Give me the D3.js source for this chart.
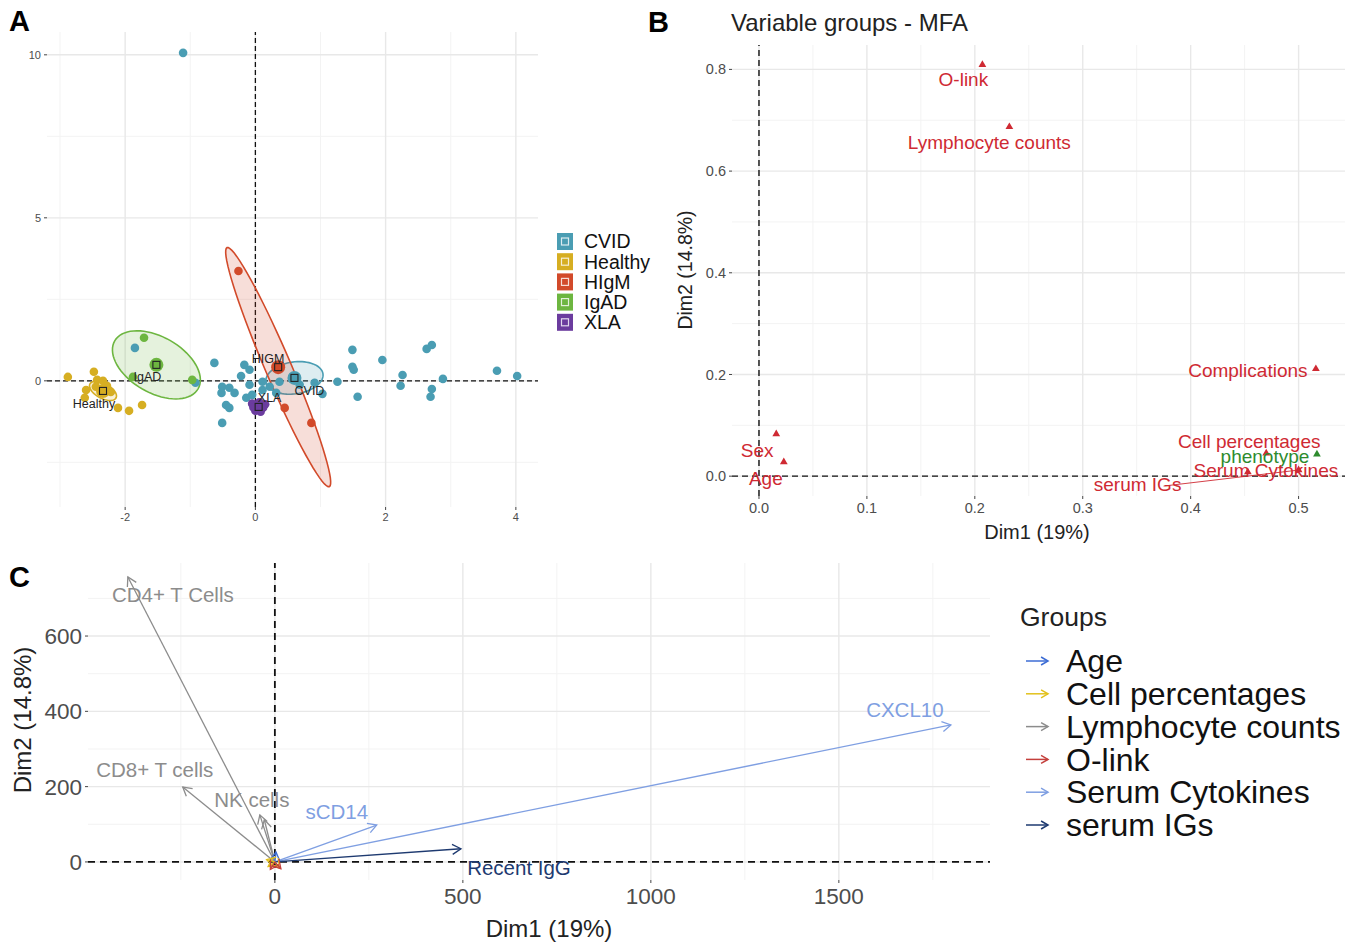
<!DOCTYPE html>
<html>
<head>
<meta charset="utf-8">
<script src="https://cdn.jsdelivr.net/npm/d3@7"></script>
<style>
  body { margin: 0; background: #fff; }
  text { font-family: "Liberation Sans", Arial, Helvetica, sans-serif; }
</style>
</head>
<body>
<svg id="fig" width="1368" height="946"></svg>
<script>
// ---------- Panel A: individuals ----------
const groupsA = ['CVID', 'Healthy', 'HIgM', 'IgAD', 'XLA'];
const colorsA = ['#4A9DB3', '#D6AE22', '#D24A2A', '#6DB640', '#6B3C9E'];

const cvidPts = [
  [-1.11, 10.06], [-0.63, 0.55], [-0.17, 0.49], [-0.09, 0.34], [-0.22, 0.15],
  [-0.09, -0.12], [-0.51, -0.18], [-0.40, -0.21], [-0.52, -0.37], [-0.32, -0.37],
  [-0.14, -0.52], [-0.45, -0.74], [-0.40, -0.83], [-0.51, -1.29], [-0.92, -0.06],
  [-1.85, 1.01], [0.11, -0.03], [0.22, -0.18], [0.37, -0.03], [0.11, -0.28],
  [0.32, -0.37], [-0.05, -0.43], [0.57, 0.12], [0.68, -0.12], [0.91, -0.06],
  [1.03, -0.40], [1.26, -0.03], [1.49, 0.95], [1.49, 0.43], [1.51, 0.34],
  [1.95, 0.64], [1.57, -0.49], [2.26, 0.18], [2.23, -0.15], [2.63, 0.98],
  [2.71, 1.10], [2.71, -0.25], [2.69, -0.49], [2.88, 0.06], [3.71, 0.31], [4.02, 0.15]
];
const healthyPts = [
  [-2.88, 0.12], [-2.48, 0.28], [-2.43, 0.03], [-2.34, 0.0], [-2.60, -0.28],
  [-2.45, -0.18], [-2.22, -0.34], [-2.62, -0.52], [-2.11, -0.83], [-1.94, -0.92],
  [-1.74, -0.74], [-2.28, -0.15]
];
const higmPts = [[-0.26, 3.37], [0.45, -0.83], [0.86, -1.29]];
const igadPts = [[-1.71, 1.32], [-0.97, 0.03], [-1.88, 0.12]];
const xlaPts = [
  [-0.05, -0.70], [0.06, -0.66], [0.12, -0.82], [0.0, -0.92],
  [0.15, -0.72], [-0.03, -0.82], [0.08, -0.95]
];
const pointsA = [cvidPts, healthyPts, higmPts, igadPts, xlaPts];

const meanLabelsA = ['CVID', 'Healthy', 'HIGM', 'IgAD', 'XLA'];
const meanXA = [0.60, -2.34, 0.35, -1.52, 0.05];
const meanYA = [0.09, -0.31, 0.42, 0.49, -0.80];
// ellipse half-axes in data units
const ellAxis1 = [[0.438, 0.123], [0.20, -0.215], [0.785, -3.666], [0.64, -0.736], [0.12, 0]];
const ellAxis2 = [[0.034, -0.485], [-0.054, -0.20], [0.184, 0.156], [-0.215, -0.742], [0, -0.18]];

const xTicksA = [-2, 0, 2, 4];
const yTicksA = [0, 5, 10];

// ---------- Panel B: variable groups ----------
const groupsB = ['O-link', 'Lymphocyte counts', 'Complications', 'Cell percentages',
  'phenotype', 'Serum Cytokines', 'serum IGs', 'Sex', 'Age'];
const dim1B = [0.207, 0.232, 0.516, 0.470, 0.517, 0.453, 0.500, 0.016, 0.023];
const dim2B = [0.809, 0.687, 0.211, 0.045, 0.043, 0.008, 0.012, 0.083, 0.028];
const suppB = [false, false, false, false, true, false, false, false, false];
const xTicksB = [0, 0.1, 0.2, 0.3, 0.4, 0.5];
const yTicksB = [0, 0.2, 0.4, 0.6, 0.8];

// ---------- Panel C: quantitative variables ----------
const varsC = ['CD4+ T Cells', 'CD8+ T cells', 'NK cells', '', 'sCD14', 'CXCL10',
  'Recent IgG', '', '', '', '', '', ''];
const dim1C = [-391, -245, -40, -28, 271, 1798, 495, 3, -18, 12, -22, -12, 16];
const dim2C = [757, 199, 125, 112, 98, 364, 35, 26, -12, -16, 6, -20, -18];
const groupC = ['Lymphocyte counts', 'Lymphocyte counts', 'Lymphocyte counts', 'Lymphocyte counts',
  'Serum Cytokines', 'Serum Cytokines', 'serum IGs', 'Age', 'Cell percentages',
  'Cell percentages', 'Cell percentages', 'O-link', 'O-link'];
const legendC = ['Age', 'Cell percentages', 'Lymphocyte counts', 'O-link', 'Serum Cytokines', 'serum IGs'];
const colorsC = ['#3C6CD4', '#E2C11C', '#8C8C8C', '#C4403C', '#7F9FE2', '#1E3A70'];
const xTicksC = [0, 500, 1000, 1500];
const yTicksC = [0, 200, 400, 600];

// ---------- layout ----------
const svg = d3.select('#fig');

function drawFrame(x, y, o) {
  const g = svg.append('g');
  const [x0, x1] = x.range();
  const [y0, y1] = y.range();
  // minor grid at midpoints
  const mid = t => t.slice(0, -1).map((v, i) => (v + t[i + 1]) / 2)
    .concat([t[0] - (t[1] - t[0]) / 2, t[t.length - 1] + (t[1] - t[0]) / 2]);
  const inX = v => x(v) >= x0 - 0.5 && x(v) <= x1 + 0.5;
  const inY = v => y(v) <= y0 + 0.5 && y(v) >= y1 - 0.5;
  g.selectAll('.mx').data(mid(o.xTicks).filter(inX)).join('line')
    .attr('x1', d => x(d)).attr('x2', d => x(d)).attr('y1', y0).attr('y2', y1)
    .attr('stroke', '#F3F3F3').attr('stroke-width', 1);
  g.selectAll('.my').data(mid(o.yTicks).filter(inY)).join('line')
    .attr('y1', d => y(d)).attr('y2', d => y(d)).attr('x1', x0).attr('x2', x1)
    .attr('stroke', '#F3F3F3').attr('stroke-width', 1);
  g.selectAll('.gx').data(o.xTicks).join('line')
    .attr('x1', d => x(d)).attr('x2', d => x(d)).attr('y1', y0).attr('y2', y1)
    .attr('stroke', '#E8E8E8').attr('stroke-width', 1.4);
  g.selectAll('.gy').data(o.yTicks).join('line')
    .attr('y1', d => y(d)).attr('y2', d => y(d)).attr('x1', x0).attr('x2', x1)
    .attr('stroke', '#E8E8E8').attr('stroke-width', 1.4);
  // ticks + labels
  g.selectAll('.tx').data(o.xTicks).join('line')
    .attr('x1', d => x(d)).attr('x2', d => x(d)).attr('y1', y0).attr('y2', y0 + 3)
    .attr('stroke', '#444');
  g.selectAll('.lx').data(o.xTicks).join('text')
    .attr('x', d => x(d)).attr('y', y0 + 4 + o.fs * 0.9)
    .attr('text-anchor', 'middle').attr('font-size', o.fs).attr('fill', '#4D4D4D')
    .text(o.fmt);
  g.selectAll('.ty').data(o.yTicks).join('line')
    .attr('x1', x0 - 3).attr('x2', x0).attr('y1', d => y(d)).attr('y2', d => y(d))
    .attr('stroke', '#444');
  g.selectAll('.ly').data(o.yTicks).join('text')
    .attr('x', x0 - 6).attr('y', d => y(d)).attr('dy', '0.35em')
    .attr('text-anchor', 'end').attr('font-size', o.fs).attr('fill', '#4D4D4D')
    .text(o.fmt);
  return g;
}

function zeroLines(x, y, dash, w) {
  const [x0, x1] = x.range();
  const [y0, y1] = y.range();
  svg.append('line').attr('x1', x0).attr('x2', x1).attr('y1', y(0)).attr('y2', y(0))
    .attr('stroke', '#111').attr('stroke-width', w).attr('stroke-dasharray', dash);
  svg.append('line').attr('x1', x(0)).attr('x2', x(0)).attr('y1', y0).attr('y2', y1)
    .attr('stroke', '#111').attr('stroke-width', w).attr('stroke-dasharray', dash);
}

function panelTag(t, px, py) {
  svg.append('text').attr('x', px).attr('y', py).attr('font-size', 29)
    .attr('font-weight', 'bold').attr('fill', '#000').text(t);
}

// ===== Panel A =====
const xA = d3.scaleLinear().domain([-3.2, 4.34]).range([47, 538]);
const yA = d3.scaleLinear().domain([-3.87, 10.7]).range([507, 32]);
drawFrame(xA, yA, { xTicks: xTicksA, yTicks: yTicksA, fs: 11, fmt: d => d });
zeroLines(xA, yA, '5,3', 1.3);
panelTag('A', 9, 31);

// ellipses
const ellLine = d3.line().curve(d3.curveLinearClosed);
groupsA.forEach((gname, i) => {
  const pts = d3.range(0, 72).map(k => {
    const t = k / 72 * 2 * Math.PI;
    const dx = Math.cos(t) * ellAxis1[i][0] + Math.sin(t) * ellAxis2[i][0];
    const dy = Math.cos(t) * ellAxis1[i][1] + Math.sin(t) * ellAxis2[i][1];
    return [xA(meanXA[i] + dx), yA(meanYA[i] + dy)];
  });
  svg.append('path').attr('d', ellLine(pts))
    .attr('fill', colorsA[i]).attr('fill-opacity', 0.18)
    .attr('stroke', colorsA[i]).attr('stroke-width', 1.6);
});

// individuals
groupsA.forEach((gname, i) => {
  svg.append('g').selectAll('circle').data(pointsA[i]).join('circle')
    .attr('cx', d => xA(d[0])).attr('cy', d => yA(d[1])).attr('r', 4.3)
    .attr('fill', colorsA[i]);
});

// group means
const labelOffA = [[15, 13], [-9, 13], [-10, -9], [-9, 12], [11, -9]];
groupsA.forEach((gname, i) => {
  const cx = xA(meanXA[i]), cy = yA(meanYA[i]);
  svg.append('circle').attr('cx', cx).attr('cy', cy).attr('r', 7).attr('fill', colorsA[i]);
  svg.append('rect').attr('x', cx - 3.5).attr('y', cy - 3.5).attr('width', 7).attr('height', 7)
    .attr('fill', 'none').attr('stroke', '#222').attr('stroke-width', 1.1);
  svg.append('text').attr('x', cx + labelOffA[i][0]).attr('y', cy + labelOffA[i][1])
    .attr('dy', '0.35em').attr('text-anchor', 'middle').attr('font-size', 12.5)
    .attr('fill', '#222').text(meanLabelsA[i]);
});

// legend A
const legA = svg.append('g').attr('transform', 'translate(557,233)');
groupsA.forEach((gname, i) => {
  const row = legA.append('g').attr('transform', `translate(0,${i * 20.2})`);
  row.append('rect').attr('width', 16).attr('height', 17).attr('fill', colorsA[i]);
  row.append('rect').attr('x', 4.5).attr('y', 5).attr('width', 7).attr('height', 7)
    .attr('fill', 'none').attr('stroke', '#fff').attr('stroke-opacity', 0.8).attr('stroke-width', 1.2);
  row.append('text').attr('x', 27).attr('y', 8.5).attr('dy', '0.35em')
    .attr('font-size', 19.5).attr('fill', '#111').text(gname);
});

// ===== Panel B =====
const xB = d3.scaleLinear().domain([-0.025, 0.543]).range([732, 1345]);
const yB = d3.scaleLinear().domain([-0.039, 0.848]).range([496, 45]);
drawFrame(xB, yB, { xTicks: xTicksB, yTicks: yTicksB, fs: 14.5, fmt: d3.format('.1f') });
zeroLines(xB, yB, '6,4', 1.4);
panelTag('B', 648, 32);
svg.append('text').attr('x', 731).attr('y', 31).attr('font-size', 24)
  .attr('fill', '#222').text('Variable groups - MFA');
svg.append('text').attr('x', 1037).attr('y', 539).attr('text-anchor', 'middle')
  .attr('font-size', 20).attr('fill', '#222').text('Dim1 (19%)');
svg.append('text').attr('transform', 'translate(692,270) rotate(-90)')
  .attr('text-anchor', 'middle').attr('font-size', 19.5).attr('fill', '#222').text('Dim2 (14.8%)');

const redB = '#CF2A33', greenB = '#2E8B2E';
const tri = d3.symbol(d3.symbolTriangle).size(26);
const labelOffB = [[-19, 15], [-20, 15], [-68, 1], [-17, -12], [-52, 2], [18, -2], [-161, 14], [-19, 16], [-18, 16]];
// connector for serum IGs
svg.append('line')
  .attr('x1', xB(dim1B[6]) + labelOffB[6][0] + 26).attr('y1', yB(dim2B[6]) + labelOffB[6][1] + 2)
  .attr('x2', xB(dim1B[6])).attr('y2', yB(dim2B[6]))
  .attr('stroke', redB).attr('stroke-width', 0.9);
groupsB.forEach((name, i) => {
  const px = xB(dim1B[i]), py = yB(dim2B[i]);
  const col = suppB[i] ? greenB : redB;
  svg.append('path').attr('d', tri).attr('transform', `translate(${px},${py})`).attr('fill', col);
  svg.append('text').attr('x', px + labelOffB[i][0]).attr('y', py + labelOffB[i][1])
    .attr('dy', '0.35em').attr('text-anchor', 'middle').attr('font-size', 19)
    .attr('fill', col).text(name);
});

// ===== Panel C =====
const xC = d3.scaleLinear().domain([-497, 1902]).range([88, 990]);
const yC = d3.scaleLinear().domain([-48, 794]).range([880, 563]);
drawFrame(xC, yC, { xTicks: xTicksC, yTicks: yTicksC, fs: 22.5, fmt: d => d });
zeroLines(xC, yC, '7,5', 1.8);
panelTag('C', 9, 587);
svg.append('text').attr('x', 549).attr('y', 937).attr('text-anchor', 'middle')
  .attr('font-size', 24).attr('fill', '#222').text('Dim1 (19%)');
svg.append('text').attr('transform', 'translate(31,720) rotate(-90)')
  .attr('text-anchor', 'middle').attr('font-size', 24).attr('fill', '#222').text('Dim2 (14.8%)');

const colorOfC = g => colorsC[legendC.indexOf(g)];
function arrowHead(x1, y1, x2, y2, len) {
  const a = Math.atan2(y2 - y1, x2 - x1);
  const p1 = [x2 - len * Math.cos(a - Math.PI / 6), y2 - len * Math.sin(a - Math.PI / 6)];
  const p2 = [x2 - len * Math.cos(a + Math.PI / 6), y2 - len * Math.sin(a + Math.PI / 6)];
  return `M${p1[0]},${p1[1]}L${x2},${y2}L${p2[0]},${p2[1]}`;
}
const labelOffC = [[45, 18], [-28, -17], [-8, -15], [0, 0], [-40, -13], [-46, -15], [58, 19]];
varsC.forEach((name, i) => {
  const ox = xC(0), oy = yC(0), tx = xC(dim1C[i]), ty = yC(dim2C[i]);
  const col = colorOfC(groupC[i]);
  svg.append('line').attr('x1', ox).attr('y1', oy).attr('x2', tx).attr('y2', ty)
    .attr('stroke', col).attr('stroke-width', 1.3);
  svg.append('path').attr('d', arrowHead(ox, oy, tx, ty, 10))
    .attr('fill', 'none').attr('stroke', col).attr('stroke-width', 1.3);
});
varsC.forEach((name, i) => {
  if (!name) return;
  const col = colorOfC(groupC[i]);
  svg.append('text').attr('x', xC(dim1C[i]) + labelOffC[i][0]).attr('y', yC(dim2C[i]) + labelOffC[i][1])
    .attr('dy', '0.35em').attr('text-anchor', 'middle').attr('font-size', 20.5)
    .attr('fill', col).text(name);
});

// legend C
const legC = svg.append('g').attr('transform', 'translate(1020,0)');
legC.append('text').attr('x', 0).attr('y', 617).attr('dy', '0.35em')
  .attr('font-size', 26.5).attr('fill', '#222').text('Groups');
legendC.forEach((name, i) => {
  const cy = 661 + i * 32.8;
  legC.append('line').attr('x1', 6).attr('x2', 28).attr('y1', cy).attr('y2', cy)
    .attr('stroke', colorsC[i]).attr('stroke-width', 1.5);
  legC.append('path').attr('d', arrowHead(6, cy, 28, cy, 8))
    .attr('fill', 'none').attr('stroke', colorsC[i]).attr('stroke-width', 1.5);
  legC.append('text').attr('x', 46).attr('y', cy).attr('dy', '0.35em')
    .attr('font-size', 32).attr('fill', '#111').text(name);
});
</script>
</body>
</html>
